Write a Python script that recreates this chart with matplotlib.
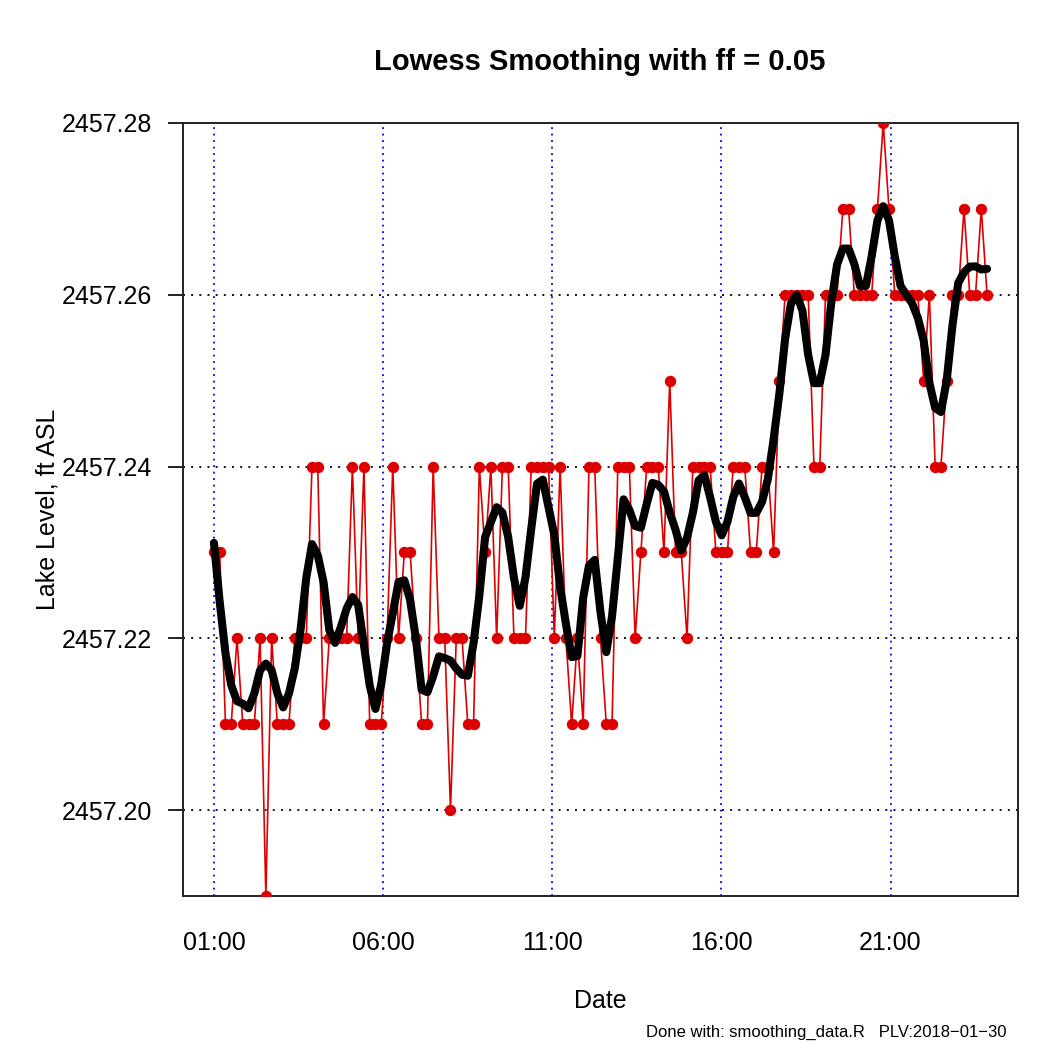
import numpy as np
import pandas as pd
import matplotlib
matplotlib.use("Agg")
import matplotlib.pyplot as plt
import matplotlib.dates as mdates

plt.rcParams['font.family'] = ['Liberation Sans', 'DejaVu Sans']

# lake level readings, ft ASL (one reading per logger step)
start_time = "2018-01-30 01:00"
step_seconds = 614
level = [
    2457.23, 2457.23, 2457.21, 2457.21, 2457.22, 2457.21, 2457.21, 2457.21, 2457.22, 2457.19,
    2457.22, 2457.21, 2457.21, 2457.21, 2457.22, 2457.22, 2457.22, 2457.24, 2457.24, 2457.21,
    2457.22, 2457.22, 2457.22, 2457.22, 2457.24, 2457.22, 2457.24, 2457.21, 2457.21, 2457.21,
    2457.22, 2457.24, 2457.22, 2457.23, 2457.23, 2457.22, 2457.21, 2457.21, 2457.24, 2457.22,
    2457.22, 2457.20, 2457.22, 2457.22, 2457.21, 2457.21, 2457.24, 2457.23, 2457.24, 2457.22,
    2457.24, 2457.24, 2457.22, 2457.22, 2457.22, 2457.24, 2457.24, 2457.24, 2457.24, 2457.22,
    2457.24, 2457.22, 2457.21, 2457.22, 2457.21, 2457.24, 2457.24, 2457.22, 2457.21, 2457.21,
    2457.24, 2457.24, 2457.24, 2457.22, 2457.23, 2457.24, 2457.24, 2457.24, 2457.23, 2457.25,
    2457.23, 2457.23, 2457.22, 2457.24, 2457.24, 2457.24, 2457.24, 2457.23, 2457.23, 2457.23,
    2457.24, 2457.24, 2457.24, 2457.23, 2457.23, 2457.24, 2457.24, 2457.23, 2457.25, 2457.26,
    2457.26, 2457.26, 2457.26, 2457.26, 2457.24, 2457.24, 2457.26, 2457.26, 2457.26, 2457.27,
    2457.27, 2457.26, 2457.26, 2457.26, 2457.26, 2457.27, 2457.28, 2457.27, 2457.26, 2457.26,
    2457.26, 2457.26, 2457.26, 2457.25, 2457.26, 2457.24, 2457.24, 2457.25, 2457.26, 2457.26,
    2457.27, 2457.26, 2457.26, 2457.27, 2457.26,
]
tick_hours = ["01:00", "06:00", "11:00", "16:00", "21:00"]
y_ticks = [2457.20, 2457.22, 2457.24, 2457.26, 2457.28]
smooth_f = 0.05


def lowest(x, y, xs, nleft, nright, rw):
    # one local weighted fit, as in R's clowess
    n = len(x)
    rng = x[-1] - x[0]
    h = max(xs - x[nleft], x[nright] - xs)
    h9, h1 = 0.999 * h, 0.001 * h
    w = np.zeros(n)
    a = 0.0
    j = nleft
    while j < n:
        r = abs(x[j] - xs)
        if r <= h9:
            w[j] = 1.0 if r <= h1 else (1 - (r / h) ** 3) ** 3
            if rw is not None:
                w[j] *= rw[j]
            a += w[j]
        elif x[j] > xs:
            break
        j += 1
    nrt = j - 1
    if a <= 0:
        return 0.0, False
    sl = slice(nleft, nrt + 1)
    w[sl] /= a
    if h > 0:
        a = np.sum(w[sl] * x[sl])
        b = xs - a
        c = np.sum(w[sl] * (x[sl] - a) ** 2)
        if np.sqrt(c) > 0.001 * rng:
            b /= c
            w[sl] *= b * (x[sl] - a) + 1
    return np.sum(w[sl] * y[sl]), True


def lowess(x, y, f=2 / 3, iters=3):
    n = len(x)
    delta = 0.01 * (x[-1] - x[0])
    ns = max(2, min(n, int(f * n + 1e-7)))
    ys = np.zeros(n)
    rw = None
    for it in range(1, iters + 2):
        nleft, nright, last, i = 0, ns - 1, -1, 0
        while True:
            if nright < n - 1:
                if x[i] - x[nleft] > x[nright + 1] - x[i]:
                    nleft += 1
                    nright += 1
                    continue
            val, ok = lowest(x, y, x[i], nleft, nright, rw)
            ys[i] = val if ok else y[i]
            if last < i - 1:
                denom = x[i] - x[last]
                for j in range(last + 1, i):
                    al = (x[j] - x[last]) / denom
                    ys[j] = al * ys[i] + (1 - al) * ys[last]
            last = i
            cut = x[last] + delta
            i = last + 1
            while i < n:
                if x[i] > cut:
                    break
                if x[i] == x[last]:
                    ys[i] = ys[last]
                    last = i
                i += 1
            i = max(last + 1, i - 1)
            if last >= n - 1:
                break
        res = y - ys
        sc = np.mean(np.abs(res))
        if it > iters:
            break
        r = np.abs(res)
        cmad = 6 * np.median(r)
        if cmad < 1e-7 * sc:
            break
        rw = np.where(r <= 0.001 * cmad, 1.0,
                      np.where(r <= 0.999 * cmad, (1 - (r / cmad) ** 2) ** 2, 0.0))
    return ys


times = pd.date_range(start_time, periods=len(level), freq=f"{step_seconds}s")
x = mdates.date2num(times.to_pydatetime())
y = np.array(level)
smooth = lowess(x, y, f=smooth_f)

day = start_time.split(" ")[0]
tick_pos = mdates.date2num(pd.to_datetime([f"{day} {h}" for h in tick_hours]).to_pydatetime())

fig = plt.figure(figsize=(10.5, 10.5), dpi=100)
ax = fig.add_axes([183 / 1050, 1 - 896 / 1050, 835 / 1050, 773 / 1050])

for yt in y_ticks:
    ax.axhline(yt, color="#111111", lw=1.4, linestyle=(0, (1.0, 3.2)), zorder=1)
for xt in tick_pos:
    ax.axvline(xt, color="#0000EE", lw=1.3, linestyle=(0, (1.0, 2.6)), zorder=1)

ax.plot(x, y, color="#DD0000", lw=1.2, marker="o", ms=7.2, mec="#DD0000", mfc="#DD0000", zorder=3)
ax.plot(x, smooth, color="black", lw=5.8, solid_joinstyle="round",
        solid_capstyle="round", zorder=4)

span = x[-1] - x[0]
ax.set_xlim(x[0] - 0.04 * span, x[-1] + 0.04 * span)
ax.set_ylim(2457.19, 2457.28)

ax.set_xticks(tick_pos)
ax.set_xticklabels(tick_hours, fontsize=18)
ax.set_yticks(y_ticks)
ax.set_yticklabels([f"{v:.2f}" for v in y_ticks], fontsize=18)
ax.tick_params(axis="x", length=0, pad=25)
ax.tick_params(axis="y", length=11, width=1.4, pad=11, color="#222222")
for sp in ax.spines.values():
    sp.set_linewidth(1.4)
    sp.set_color("#222222")

fig.text(600 / 1050, 1 - 62 / 1050, "Lowess Smoothing with ff = 0.05",
         ha="center", va="center", fontsize=21, fontweight="bold")
fig.text(48 / 1050, 1 - 509 / 1050, "Lake Level, ft ASL", rotation=90,
         ha="center", va="center", fontsize=18)
fig.text(600 / 1050, 1 - 1001 / 1050, "Date", ha="center", va="center", fontsize=18)
fig.text(1007 / 1050, 1 - 1032 / 1050, "Done with: smoothing_data.R   PLV:2018\u221201\u221230",
         ha="right", va="center", fontsize=12)

fig.savefig("out.png", dpi=100)
